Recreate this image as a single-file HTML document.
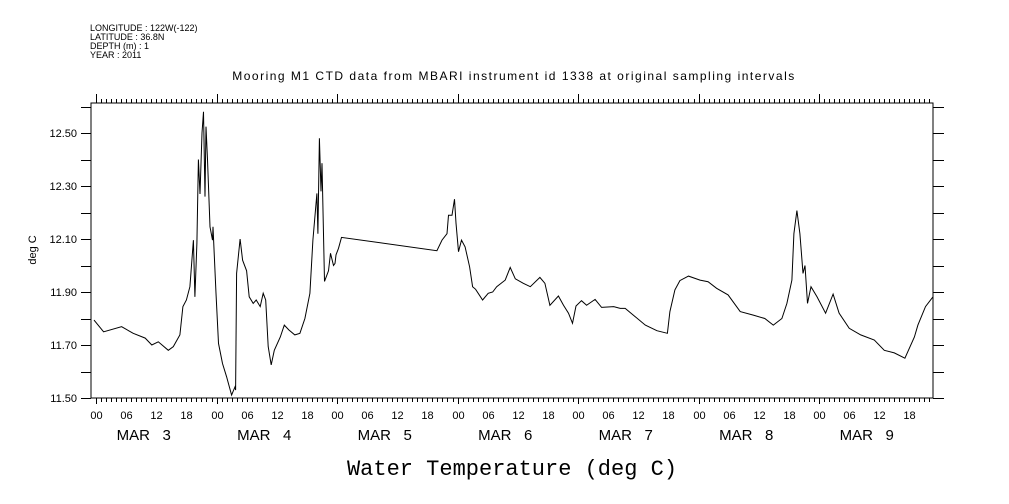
<!DOCTYPE html>
<html><head><meta charset="utf-8"><style>
body{margin:0;background:#fff}
svg{display:block}
text{font-family:"Liberation Sans",sans-serif;fill:#000}
</style></head><body>
<svg id="chart" width="1009" height="504" viewBox="0 0 1009 504" xmlns="http://www.w3.org/2000/svg">
<g font-size="9">
<text x="90" y="31">LONGITUDE : 122W(-122)</text>
<text x="90" y="40">LATITUDE : 36.8N</text>
<text x="90" y="49">DEPTH (m) : 1</text>
<text x="90" y="58">YEAR : 2011</text>
</g>
<text x="514" y="80" font-size="12" letter-spacing="1.5" text-anchor="middle">Mooring M1 CTD data from MBARI instrument id 1338 at original sampling intervals</text>
<text x="0" y="0" font-size="11" text-anchor="middle" transform="translate(36,250) rotate(-90)">deg C</text>
<text x="512" y="475" font-size="22" text-anchor="middle" style="font-family:'Liberation Mono',monospace">Water Temperature (deg C)</text>
<rect x="91" y="103" width="842" height="295" fill="none" stroke="#000" stroke-width="1"/>
<g id="axes"></g>
<path id="line" fill="none" stroke="#000" stroke-width="1"/>
</svg>
<script>
const hours=[-0.4,1.5,5.1,7.4,9.8,11.1,12.4,14.4,15.4,16.7,17.3,18.0,18.7,19.4,19.7,20.1,20.4,20.7,21.1,21.4,21.7,21.9,22.2,22.7,23.2,23.3,23.9,24.4,25.2,26.0,27.0,27.7,27.8,28.0,28.7,29.2,30.0,30.5,31.3,31.9,32.7,33.3,33.8,34.3,34.9,35.5,36.7,37.5,38.4,39.6,40.6,41.6,42.6,43.2,44.0,44.2,44.5,44.8,45.0,45.5,46.3,46.7,47.3,47.6,47.8,48.3,48.9,67.9,68.9,69.9,70.2,70.9,71.4,71.7,72.2,72.8,73.5,74.4,75.0,75.6,77.0,78.1,79.0,79.8,81.5,82.5,83.5,85.1,86.5,88.4,89.4,90.4,92.1,93.1,94.1,94.9,95.6,96.7,97.7,99.4,100.7,103.1,104.4,105.4,107.0,109.4,111.7,113.8,114.3,115.3,116.3,118.0,120.3,121.9,123.6,125.9,128.3,130.9,133.2,134.9,136.6,137.6,138.6,139.0,139.6,140.2,140.8,141.2,141.7,142.4,143.6,145.3,146.8,148.0,150.0,152.3,155.0,157.0,159.0,161.1,163.0,163.7,165.2,166.7];
const temps=[11.794,11.75,11.769,11.744,11.726,11.70,11.712,11.68,11.694,11.738,11.845,11.87,11.92,12.096,11.882,12.084,12.40,12.27,12.50,12.58,12.26,12.524,12.40,12.146,12.096,12.146,11.895,11.706,11.63,11.58,11.511,11.543,11.53,11.97,12.10,12.02,11.98,11.882,11.857,11.87,11.845,11.895,11.87,11.694,11.625,11.68,11.73,11.775,11.757,11.738,11.744,11.80,11.895,12.096,12.272,12.12,12.48,12.28,12.386,11.94,11.98,12.046,12.00,12.008,12.04,12.065,12.106,12.056,12.096,12.12,12.19,12.19,12.25,12.16,12.052,12.096,12.07,11.995,11.92,11.91,11.87,11.895,11.90,11.92,11.945,11.993,11.95,11.933,11.92,11.955,11.933,11.85,11.885,11.85,11.82,11.782,11.847,11.867,11.85,11.872,11.842,11.845,11.838,11.838,11.813,11.775,11.754,11.744,11.826,11.908,11.943,11.96,11.945,11.939,11.914,11.889,11.826,11.813,11.80,11.775,11.80,11.857,11.945,12.12,12.207,12.12,11.97,12.0,11.857,11.92,11.882,11.82,11.892,11.82,11.763,11.738,11.719,11.68,11.67,11.65,11.73,11.775,11.845,11.882];
const yTicks=[11.5,11.7,11.9,12.1,12.3,12.5];
const yTickLabels=["11.50","11.70","11.90","12.10","12.30","12.50"];
const days=["MAR   3","MAR   4","MAR   5","MAR   6","MAR   7","MAR   8","MAR   9"];
const hourLabels=["00","06","12","18"];

const X0=91,X1=933,Y0=398,Y1=103;
const hMin=-1,hMax=166.7,vMin=11.5,vMax=vMin+(Y0-Y1)/265;
const xs=h=>X0+(h-hMin)/(hMax-hMin)*(X1-X0);
const ys=v=>Y0-(v-vMin)/(vMax-vMin)*(Y0-Y1);
const NS="http://www.w3.org/2000/svg";
const ax=document.getElementById('axes');
function ln(x1,y1,x2,y2,name){const l=document.createElementNS(NS,'line');
l.setAttribute('x1',x1);l.setAttribute('y1',y1);l.setAttribute('x2',x2);l.setAttribute('y2',y2);
l.setAttribute('stroke','#000');l.setAttribute('stroke-width','1');


ax.appendChild(l);}
function tx(x,y,s,size,anchor,name){const t=document.createElementNS(NS,'text');
t.setAttribute('x',x);t.setAttribute('y',y);t.setAttribute('font-size',size);t.setAttribute('text-anchor',anchor);
t.setAttribute('xml:space','preserve');t.style.whiteSpace='pre';t.textContent=s;


ax.appendChild(t);}
for(let h=0;h<=166;h++){
  const x=Math.round(xs(h))+0.5;const major=h%24===0;
  ln(x,Y0,x,Y0+(major?6:4),'x-tick-bottom');
  ln(x,Y1,x,Y1-(major?9:4),'x-tick-top');
  if(h%6===0){tx(x,419,hourLabels[(h/6)%4],11,'middle','x-tick-label');}
}
days.forEach((d,i)=>{tx(xs(i*24+9.5),440,d,15,'middle','day-label');});
for(let v=11.5;v<=12.61;v+=0.1){
  const y=Math.round(ys(v))+0.5;
  ln(X0-10,y,X0,y,'y-tick-left');
  ln(X1,y,X1+11,y,'y-tick-right');
}
yTicks.forEach((v,i)=>{tx(77,ys(v)+4,yTickLabels[i],11,'end','y-tick-label');});
let d='';hours.forEach((h,i)=>{d+=(i?'L':'M')+xs(h).toFixed(1)+' '+ys(temps[i]).toFixed(1);});
document.getElementById('line').setAttribute('d',d);
</script>
</body></html>
